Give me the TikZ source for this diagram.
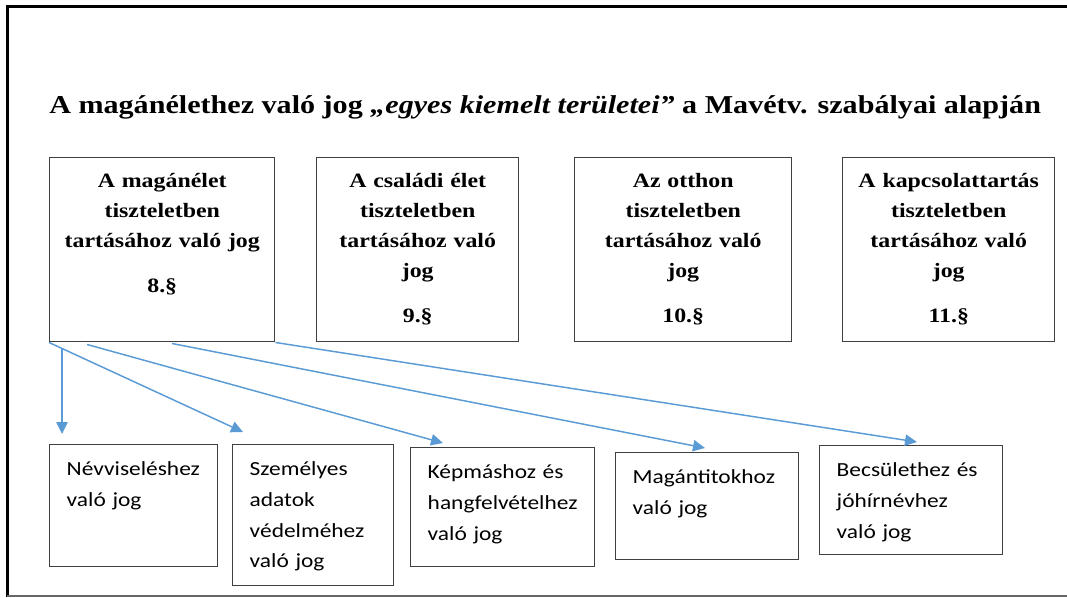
\documentclass[tikz,border=0pt]{standalone}
\usepackage{fontspec}
\setmainfont[FakeStretch=1.17]{Liberation Serif}
\newfontfamily\calibri[FakeStretch=1.17]{Carlito}
\usepackage{tikz}
\usetikzlibrary{arrows.meta,calc}
\definecolor{arrowblue}{HTML}{5B9BD5}
\definecolor{boxgray}{HTML}{404040}
\hyphenpenalty=10000
\exhyphenpenalty=10000

\begin{document}
\begin{tikzpicture}[x=0.75pt,y=0.75pt,
    topbox/.style={draw=boxgray,line width=1.1pt,anchor=north west,inner sep=0pt,align=center,
        font=\fontsize{15.3}{22.5}\selectfont\bfseries,text height=22.5pt,text depth=115.5pt},
    subbox/.style={draw=boxgray,line width=1.1pt,anchor=north west,inner xsep=12.75pt,inner ysep=0pt,align=left,
        font=\calibri\fontsize{15}{23}\selectfont,text height=23.25pt},
    link/.style={-{Triangle[length=9pt,width=8.5pt]},draw=arrowblue,line width=1.1pt}]
        \useasboundingbox (0,0) rectangle (1067,-597);
        \draw[line width=2.25pt] (1067,-6.5) -- (7,-6.5) -- (7,-597);
        \draw[black!60,line width=1.1pt] (7,-596) -- (1067,-596);
        \node[anchor=base west,inner sep=0pt,font=\fontsize{19.3}{24}\selectfont\bfseries] (title) at (49,-113)
            {A magánélethez való jog \textit{„egyes kiemelt területei”} a Mavétv. szabályai alapján};
        \node[topbox,text width=168.75pt] (t1) at (49,-157) {A magánélet\\tiszteletben\\tartásához való jog\\[11.25pt]8.§};
        \node[topbox,text width=151.5pt] (t2) at (316,-157) {A családi élet\\tiszteletben\\tartásához való\\jog\\[11.25pt]9.§};
        \node[topbox,text width=162.75pt] (t3) at (574,-157) {Az otthon\\tiszteletben\\tartásához való\\jog\\[11.25pt]10.§};
        \node[topbox,text width=159pt] (t4) at (842,-157) {A kapcsolattartás\\tiszteletben\\tartásához való\\jog\\[11.25pt]11.§};
        \node[subbox,text width=100.5pt,text depth=68.25pt] (b1) at (49,-444) {Névviseléshez\\való jog};
        \node[subbox,text width=95.25pt,text depth=82.5pt] (b2) at (232,-444) {Személyes\\adatok\\védelméhez\\való jog};
        \node[subbox,text width=112.5pt,text depth=66pt] (b3) at (410,-447) {Képmáshoz és\\hangfelvételhez\\való jog};
        \node[subbox,text width=111.75pt,text depth=57pt] (b4) at (615,-452) {Magántitokhoz\\való jog};
        \node[subbox,text width=111.75pt,text depth=58.5pt] (b5) at (819,-445) {Becsülethez és\\jóhírnévhez\\való jog};
        \coordinate (fork) at ([shift={(13,-7)}]t1.south west);
        \path (t1.south west) edge[link] ([shift={(11,12)}]b2.north west)
              (fork) edge[link,shorten >=7.5pt] (fork |- b1.north)
              ([shift={(38,-2)}]t1.south west) edge[link] ([shift={(33,4)}]b3.north west)
              ([shift={(123,-1)}]t1.south west) edge[link] ([shift={(90,4)}]b4.north west)
              (t1.south east) edge[link] ([shift={(98,3)}]b5.north west);
\end{tikzpicture}
\end{document}
